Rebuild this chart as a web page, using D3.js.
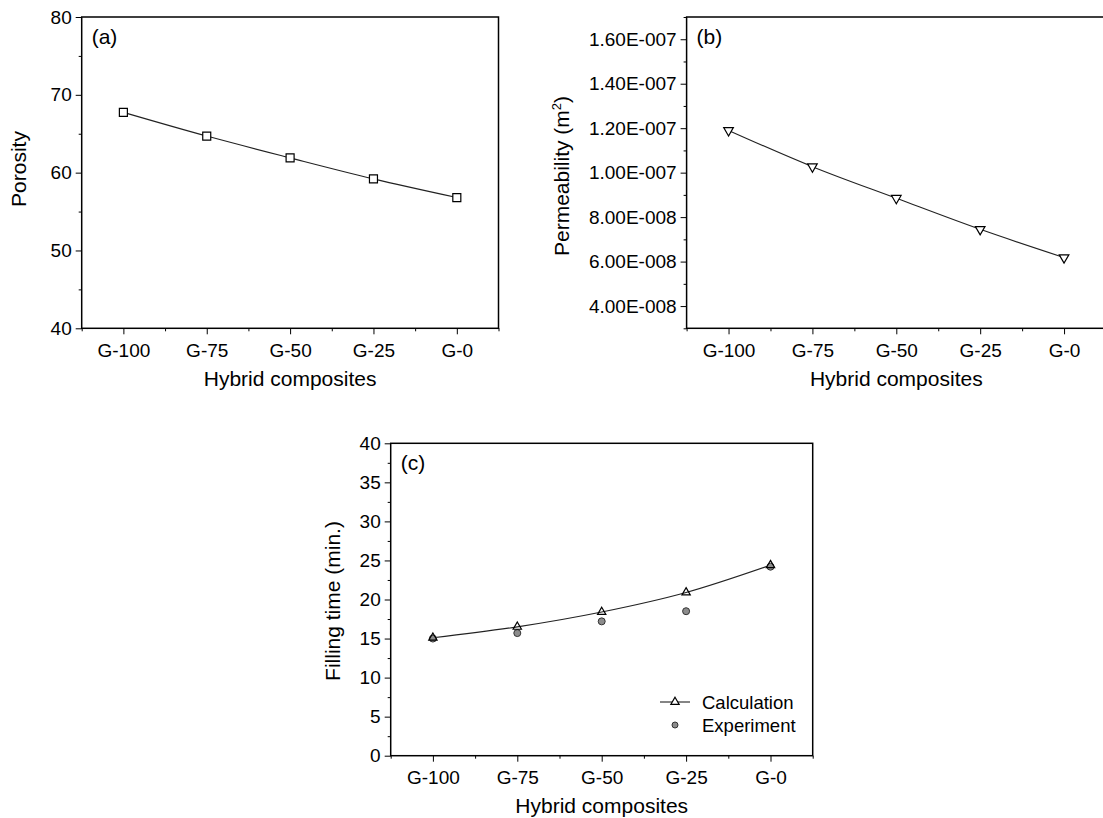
<!DOCTYPE html>
<html lang="en">
<head>
  <meta charset="UTF-8">
  <title>Porosity, permeability and filling time of hybrid composites</title>
  <script src="https://cdn.jsdelivr.net/npm/d3@7"></script>
  <style>
    body {
      margin: 0;
      background-color: #fff;
    }
    svg {
      display: block;
      font-family: "Liberation Sans", Arial, sans-serif;
    }
    .axis path, .axis line {
      stroke: #000;
    }
    .axis text {
      fill: #000;
      font-size: 19px;
    }
    .title {
      font-size: 21px;
      fill: #000;
    }
    .series {
      fill: none;
      stroke: #222;
      stroke-width: 1.1;
    }
  </style>
</head>
<body>
  <div id="chart"></div>
  <script>
    // data
    const categories = ["G-100", "G-75", "G-50", "G-25", "G-0"];
    const porosity = [67.75, 64.7, 61.9, 59.2, 56.8];
    const permeability = [1.19e-7, 1.027e-7, 8.85e-8, 7.45e-8, 6.18e-8];
    const calcTime = [15.1, 16.5, 18.4, 20.9, 24.4];
    const expTime = [15.0, 15.7, 17.2, 18.5, 24.2];

    const porosityTicks = [40, 50, 60, 70, 80];
    const permTicks = [4e-8, 6e-8, 8e-8, 1e-7, 1.2e-7, 1.4e-7, 1.6e-7];
    const timeTicks = [0, 5, 10, 15, 20, 25, 30, 35, 40];

    const svg = d3.select("#chart")
      .append("svg")
      .attr("width", 1103)
      .attr("height", 818);

    // 1.60E-007 style labels
    function sciFormat(v) {
      const e = Math.floor(Math.log10(v) + 1e-9);
      const m = v / Math.pow(10, e);
      const sign = e < 0 ? "-" : "+";
      return m.toFixed(2) + "E" + sign + String(Math.abs(e)).padStart(3, "0");
    }

    function midpoints(arr) {
      const out = [];
      for (let i = 0; i < arr.length - 1; i++) out.push((arr[i] + arr[i + 1]) / 2);
      return out;
    }

    function drawPanel(p) {
      const g = svg.append("g");

      const x = d3.scalePoint()
        .domain(categories)
        .range([p.left, p.right])
        .padding(0.5);

      // index scale used for the minor ticks between categories
      const xi = d3.scaleLinear()
        .domain([-0.5, categories.length - 0.5])
        .range([p.left, p.right]);

      const y = d3.scaleLinear()
        .domain(p.domain)
        .range([p.bottom, p.top]);

      // y axis, major + minor
      g.append("g")
        .attr("class", "axis")
        .attr("transform", `translate(${p.left},0)`)
        .call(d3.axisLeft(y).tickValues(p.ticks).tickSizeOuter(0).tickSizeInner(6)
          .tickPadding(4).tickFormat(p.format || d3.format("d")))
        .call(s => s.select(".domain").remove());

      g.append("g")
        .attr("class", "axis")
        .attr("transform", `translate(${p.left},0)`)
        .call(d3.axisLeft(y).tickValues(p.minor).tickSizeOuter(0).tickSizeInner(3).tickFormat(""))
        .call(s => s.select(".domain").remove());

      // x axis, major + minor
      g.append("g")
        .attr("class", "axis")
        .attr("transform", `translate(0,${p.bottom})`)
        .call(d3.axisBottom(x).tickSizeOuter(0).tickSizeInner(6).tickPadding(9))
        .call(s => s.select(".domain").remove());

      g.append("g")
        .attr("class", "axis")
        .attr("transform", `translate(0,${p.bottom})`)
        .call(d3.axisBottom(xi).tickValues(d3.range(-0.5, categories.length, 1))
          .tickSizeOuter(0).tickSizeInner(3).tickFormat(""))
        .call(s => s.select(".domain").remove());

      // frame
      g.append("rect")
        .attr("x", p.left)
        .attr("y", p.top)
        .attr("width", p.right - p.left)
        .attr("height", p.bottom - p.top)
        .attr("fill", "none")
        .attr("stroke", "#000")
        .attr("stroke-width", 1.5);

      // titles
      g.append("text")
        .attr("class", "title")
        .attr("x", (p.left + p.right) / 2)
        .attr("y", p.xTitleY)
        .attr("text-anchor", "middle")
        .text("Hybrid composites");

      const yt = g.append("text")
        .attr("class", "title")
        .attr("text-anchor", "middle")
        .attr("transform", `translate(${p.yTitleX},${p.yTitleY}) rotate(-90)`)
        .text(p.yTitle);
      if (p.yTitleSup) {
        yt.text(p.yTitle);
        yt.append("tspan").attr("dy", -8).attr("font-size", 13).text(p.yTitleSup);
        yt.append("tspan").attr("dy", 8).text(")");
      }

      g.append("text")
        .attr("class", "title")
        .attr("x", p.left + 10)
        .attr("y", p.top + 27)
        .text(p.label);

      return { g, x, y };
    }

    const line = (x, y, vals) => d3.line()
      .x((d, i) => x(categories[i]))
      .y(d => y(d))
      .curve(d3.curveMonotoneX)(vals);

    // (a) porosity
    const a = drawPanel({
      left: 81.7, right: 498.5, top: 17, bottom: 328.3,
      domain: [40, 80], ticks: porosityTicks, minor: midpoints(porosityTicks),
      yTitle: "Porosity", yTitleX: 26, yTitleY: 169, xTitleY: 386, label: "(a)"
    });
    a.g.append("path").attr("class", "series").attr("d", line(a.x, a.y, porosity));
    a.g.selectAll(".pt")
      .data(porosity)
      .join("path")
      .attr("transform", (d, i) => `translate(${a.x(categories[i])},${a.y(d)})`)
      .attr("d", d3.symbol(d3.symbolSquare, 64))
      .attr("fill", "#fff")
      .attr("stroke", "#000")
      .attr("stroke-width", 1.2);

    // (b) permeability
    const permMinor = midpoints([2e-8].concat(permTicks, [1.8e-7]));
    const b = drawPanel({
      left: 686.6, right: 1106, top: 17, bottom: 328.3,
      domain: [3e-8, 1.7e-7], ticks: permTicks, minor: permMinor, format: sciFormat,
      yTitle: "Permeability (m", yTitleSup: "2", yTitleX: 569, yTitleY: 176, xTitleY: 386, label: "(b)"
    });
    b.g.append("path").attr("class", "series").attr("d", line(b.x, b.y, permeability));
    b.g.selectAll(".pt")
      .data(permeability)
      .join("path")
      .attr("transform", (d, i) => `translate(${b.x(categories[i])},${b.y(d)}) rotate(180)`)
      .attr("d", d3.symbol(d3.symbolTriangle, 40))
      .attr("fill", "#fff")
      .attr("stroke", "#000")
      .attr("stroke-width", 1.2);

    // (c) filling time
    const c = drawPanel({
      left: 390.7, right: 812.7, top: 443.3, bottom: 755.7,
      domain: [0, 40], ticks: timeTicks, minor: midpoints(timeTicks),
      yTitle: "Filling time (min.)", yTitleX: 340, yTitleY: 601, xTitleY: 813, label: "(c)"
    });
    c.g.append("path").attr("class", "series").attr("d", line(c.x, c.y, calcTime));
    c.g.selectAll(".exp")
      .data(expTime)
      .join("circle")
      .attr("cx", (d, i) => c.x(categories[i]))
      .attr("cy", d => c.y(d))
      .attr("r", 3.5)
      .attr("fill", "#8c8c8c")
      .attr("stroke", "#333")
      .attr("stroke-width", 1);
    c.g.selectAll(".calc")
      .data(calcTime)
      .join("path")
      .attr("transform", (d, i) => `translate(${c.x(categories[i])},${c.y(d)})`)
      .attr("d", d3.symbol(d3.symbolTriangle, 30))
      .attr("fill", "none")
      .attr("stroke", "#000")
      .attr("stroke-width", 1.2);

    // legend
    const leg = c.g.append("g").attr("transform", "translate(660,702)");
    leg.append("line").attr("x1", 0).attr("x2", 30).attr("stroke", "#222").attr("stroke-width", 1.1);
    leg.append("path")
      .attr("transform", "translate(15,0)")
      .attr("d", d3.symbol(d3.symbolTriangle, 30))
      .attr("fill", "#fff")
      .attr("stroke", "#000")
      .attr("stroke-width", 1.2);
    leg.append("circle").attr("cx", 15).attr("cy", 23).attr("r", 3)
      .attr("fill", "#8c8c8c").attr("stroke", "#333");
    leg.append("text").attr("x", 42).attr("y", 6.5).attr("font-size", 18.5).text("Calculation");
    leg.append("text").attr("x", 42).attr("y", 29.5).attr("font-size", 18.5).text("Experiment");
  </script>
</body>
</html>
